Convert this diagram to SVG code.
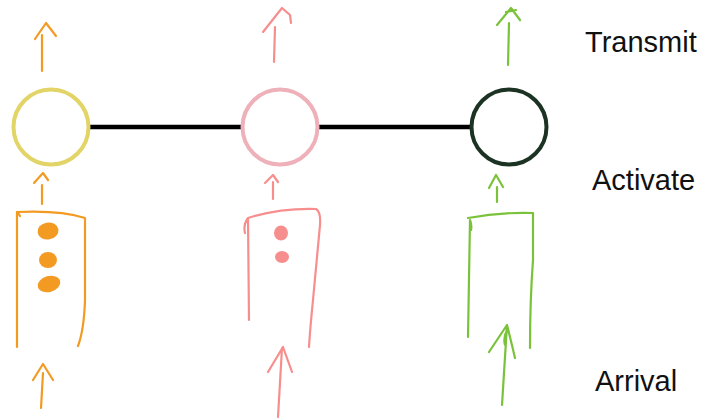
<svg xmlns="http://www.w3.org/2000/svg" width="704" height="419" viewBox="0 0 704 419">
  <style>
    .ink { fill: none; stroke-width: 2.2; stroke-linecap: round; stroke-linejoin: round; }
    .orange { stroke: #f39a22; }
    .pink { stroke: #f78e8e; }
    .green { stroke: #7ac23a; }
    .ring { fill: #ffffff; stroke-width: 4; filter: url(#soft); }
    .label { font-family: "Liberation Sans", Arial, Helvetica, sans-serif; font-size: 29px; fill: #111111; }
  </style>
  <defs>
    <filter id="soft" x="-20%" y="-20%" width="140%" height="140%">
      <feGaussianBlur stdDeviation="0.7"/>
    </filter>
  </defs>
  <rect width="704" height="419" fill="#ffffff"/>

  <!-- links between units -->
  <g id="connectors">
    <line x1="90" y1="127" x2="242" y2="127" stroke="#000000" stroke-width="4.5"/>
    <line x1="318" y1="127" x2="471" y2="127" stroke="#000000" stroke-width="4.5"/>
  </g>

  <!-- unit 1 (orange) -->
  <g id="unit-orange">
    <circle class="ring" cx="51" cy="127" r="37.5" stroke="#e2d466"/>
    <path class="ink orange" d="M42 71 L42 35 M35 39 L46 23 L56 36"/>
    <path class="ink orange" d="M42 204 L42 185 M34 183 L43 173 L48 180"/>
    <path class="ink orange" d="M17 347 L17 212 Q17 211 20 216 M17 212 Q60 210 85 218 L85 300 Q84 330 78 346"/>
    <ellipse cx="48" cy="231" rx="10.5" ry="8.5" fill="#f39a22" transform="rotate(-10 48 231)"/>
    <ellipse cx="48" cy="260" rx="9" ry="8" fill="#f39a22"/>
    <ellipse cx="49" cy="284" rx="11.5" ry="8" fill="#f39a22" transform="rotate(-15 49 284)"/>
    <path class="ink orange" d="M41 408 L43 373 M33 380 L43 364 L53 380"/>
  </g>

  <!-- unit 2 (pink) -->
  <g id="unit-pink">
    <circle class="ring" cx="280" cy="127" r="37.5" stroke="#eeb1ba"/>
    <path class="ink pink" d="M274 62 L275 27 M263 32 L282 8 L290 15 L291 23"/>
    <path class="ink pink" d="M273 199 L273 182 M265 183 L273 175 L278 182"/>
    <path class="ink pink" d="M249 320 L248 218 Q243 225 245 233 M248 218 Q280 208 316 209 Q321 212 320 225 L313 300 Q310 330 309 347"/>
    <ellipse cx="281" cy="233" rx="7" ry="7.5" fill="#f78e8e"/>
    <ellipse cx="282" cy="257" rx="7" ry="6" fill="#f78e8e"/>
    <path class="ink pink" d="M278 417 L282 348 M268 372 L283 347 L292 372"/>
  </g>

  <!-- unit 3 (green) -->
  <g id="unit-green">
    <circle class="ring" cx="509" cy="127" r="37.5" stroke="#1b3322"/>
    <path class="ink green" d="M508 65 L509 23 M497 25 L511 8 L520 20 M506 12 L516 10"/>
    <path class="ink green" d="M497 202 L497 187 M489 188 L496 175 L503 187"/>
    <path class="ink green" d="M468 337 L470 220 Q472 225 471 230 M468 218 Q500 212 533 213 L533 260 Q530 300 530 348"/>
    <path class="ink green" d="M502 405 L507 325 M489 352 L507 325 Q512 345 515 358 M505 345 Q503 338 507 330"/>
  </g>

  <!-- row labels -->
  <g id="labels">
    <text class="label" x="585" y="52">Transmit</text>
    <text class="label" x="592" y="190">Activate</text>
    <text class="label" x="595" y="391">Arrival</text>
  </g>
</svg>
